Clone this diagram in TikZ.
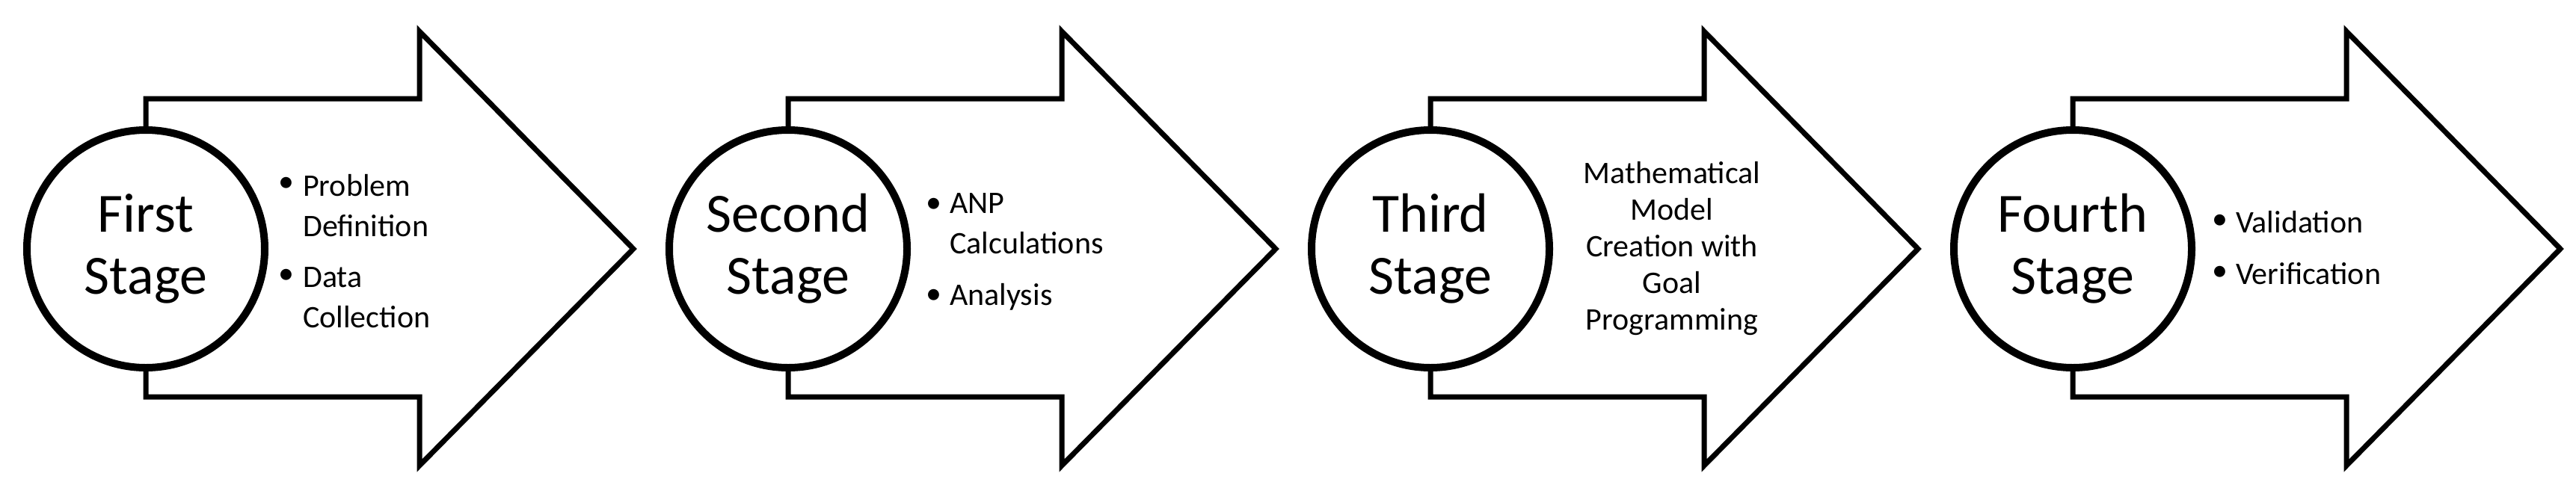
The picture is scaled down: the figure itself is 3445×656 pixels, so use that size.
\documentclass[tikz,border=0pt]{standalone}
\usepackage{fontspec}
\setmainfont{Carlito}
\begin{document}
\begin{tikzpicture}[x=1pt,y=-1pt,
  arr/.style={draw=black,line width=7pt,fill=white,line join=miter},
  stage/.style={circle,draw=black,line width=10pt,fill=white,minimum size=318pt,inner sep=0pt,align=center,font=\fontsize{74}{83}\selectfont},
  item/.style={anchor=west,align=left,font=\fontsize{42}{54}\selectfont,inner sep=0pt},
  bul/.style={anchor=west,font=\fontsize{42}{54}\selectfont,inner sep=0pt}]
\useasboundingbox (0,0) rectangle (3445,656);
\foreach \i/\t in {0/{First\\Stage},1/{Second\\Stage},2/{Third\\Stage},3/{Fourth\\Stage}}{
  \begin{scope}[xshift=\i*859pt]
  \draw[arr] (195,132) -- (561,132) -- (561,42) -- (847,333) -- (561,623) -- (561,531) -- (195,531) -- cycle;
  \node[stage] (s\i) at (195,333) {\t};
  \end{scope}
}
% first
\node[bul] (b1) at (372,247) {\textbullet};
\node[item] (t1) at (405,275) {Problem\\Definition};
\node[bul] (b2) at (372,370) {\textbullet};
\node[item] (t2) at (405,398) {Data\\Collection};
% second
\node[bul] (b3) at (1238,275) {\textbullet};
\node[item] (t3) at (1270,299) {ANP\\Calculations};
\node[bul] (b4) at (1238,397) {\textbullet};
\node[item] (t4) at (1270,397) {Analysis};
% third
\node[align=center,font=\fontsize{42}{49}\selectfont,inner sep=0pt] (t5) at (2236,333) {Mathematical\\Model\\Creation with\\Goal\\Programming};
% fourth
\node[bul] (b6) at (2958,297) {\textbullet};
\node[item] (t6) at (2990,297) {Validation};
\node[bul] (b7) at (2958,366) {\textbullet};
\node[item] (t7) at (2990,366) {Verification};
\end{tikzpicture}
\end{document}
